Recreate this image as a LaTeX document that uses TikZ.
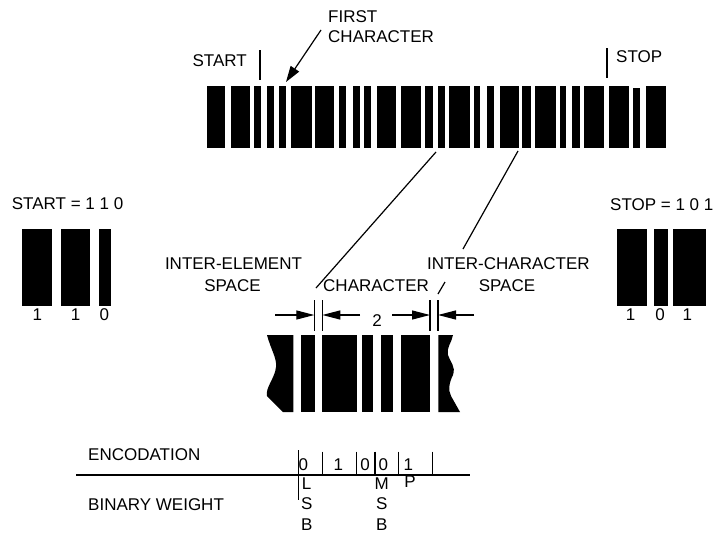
\documentclass[tikz,border=0pt]{standalone}
\usepackage{fontspec}
\setmainfont{Liberation Sans}
\usetikzlibrary{arrows.meta}
\begin{document}
\begin{tikzpicture}[x=1pt,y=-1pt,
  lbl/.style={inner sep=0pt,font=\fontsize{17}{20}\selectfont},
  thinline/.style={line width=1.2pt},
  dimarrow/.style={line width=1.2pt,-{Triangle[length=18pt,width=9pt]}},
  ptr/.style={line width=1.2pt,-{Triangle[length=16pt,width=10pt]}}]
\useasboundingbox (0,0) rectangle (713,533);
% ---------- top barcode ----------
\foreach \a/\b in {207/225,231/250,254/261,267/274,279/286,291/312,315/334,339/346,353/360,364/371,377/396,401/421,425/433,438/445,449/470,474/480,487/494,500/519,522/531,535/556,560/566,572/580,584/604,609/629,646/666}
  \fill (\a,86) rectangle (\b,148);
\fill (633,87.5) rectangle (640,148);
% start / stop markers
\coordinate (startT) at (260,50); \coordinate (startB) at (260,80);
\draw[thinline] (startT) -- (startB);
\node[lbl,anchor=east] (start) at (247,61) {START};
\coordinate (stopT) at (607,48); \coordinate (stopB) at (607,78);
\draw[thinline] (stopT) -- (stopB);
\node[lbl,anchor=west] (stop) at (616,57) {STOP};
% first character
\node[lbl,anchor=west] (first) at (328,17) {FIRST};
\node[lbl,anchor=west] (firstch) at (328,37) {CHARACTER};
\coordinate (fcfrom) at (321,30); \coordinate (fcto) at (286,82);
\draw[ptr] (fcfrom) -- (fcto);
% ---------- start / stop patterns ----------
\node[lbl,anchor=west] (starteq) at (11.7,203.3) {START = 1 1 0};
\fill (21.7,229.3) rectangle (51.7,306);
\fill (61,229.3) rectangle (90,306);
\fill (99,229.3) rectangle (111,306);
\node[lbl] (s1) at (37.3,315) {1};
\node[lbl] (s2) at (75.7,315) {1};
\node[lbl] (s3) at (104.3,315) {0};
\node[lbl,anchor=west] (stopeq) at (610,205) {STOP = 1 0 1};
\fill (616.7,229.3) rectangle (646.7,306);
\fill (654,229.3) rectangle (668.3,306);
\fill (672.7,229.3) rectangle (706,306);
\node[lbl] (t1) at (630.7,315) {1};
\node[lbl] (t2) at (660,315) {0};
\node[lbl] (t3) at (687.3,315) {1};
% ---------- magnifier lines ----------
\coordinate (d1a) at (436,152); \coordinate (d1b) at (316,288);
\draw[thinline] (d1a) -- (d1b);
\coordinate (d2a) at (518,151); \coordinate (d2b) at (463,249);
\draw[thinline] (d2a) -- (d2b);
\coordinate (d3a) at (445,282); \coordinate (d3b) at (438,294);
\draw[thinline] (d3a) -- (d3b);
% labels
\node[lbl] (ie1) at (233.5,264) {INTER-ELEMENT};
\node[lbl] (ie2) at (232.5,285.7) {SPACE};
\node[lbl,anchor=west] (chr) at (323,285.7) {CHARACTER};
\node[lbl,anchor=west] (ic1) at (427,264) {INTER-CHARACTER};
\node[lbl] (ic2) at (507,285.7) {SPACE};
% dimension row
\foreach \x in {314.3,322.3,430,438}
  \draw[thinline] (\x,300) -- (\x,331);
\coordinate (a1s) at (275,315); \coordinate (a1e) at (314.3,315);
\coordinate (a2s) at (360,315); \coordinate (a2e) at (322.3,315);
\coordinate (a3s) at (392,315); \coordinate (a3e) at (430,315);
\coordinate (a4s) at (474,315); \coordinate (a4e) at (438,315);
\draw[dimarrow] (a1s) -- (a1e);
\draw[dimarrow] (a2s) -- (a2e);
\draw[dimarrow] (a3s) -- (a3e);
\draw[dimarrow] (a4s) -- (a4e);
\node[lbl] (two) at (377,321) {2};
% magnified bars
\fill (267,335) .. controls (271,350) and (277,358) .. (276,367)
  .. controls (275,378) and (265,388) .. (267,396) -- (283,412)
  -- (293.3,412) -- (293.3,335) -- cycle;
\fill (300.7,335) rectangle (315,412);
\fill (321.7,335) rectangle (356.7,412);
\fill (361.7,335) rectangle (373.3,412);
\fill (380.7,335) rectangle (393.3,412);
\fill (400.7,335) rectangle (430,412);
\fill (438.3,335) -- (453,335) .. controls (452,342) and (446,348) .. (448,355)
  .. controls (450,362) and (456,366) .. (453,375)
  .. controls (449,383) and (448,390) .. (451,396) -- (460,412)
  -- (438.3,412) -- cycle;
% ---------- encodation ----------
\node[lbl,anchor=west] (enc) at (88,455) {ENCODATION};
\node[lbl,anchor=west] (bw) at (88,505) {BINARY WEIGHT};
\coordinate (hl) at (76,475); \coordinate (hr) at (470,475);
\draw[thinline] (hl) -- (hr);
\draw[thinline] (298.3,450) -- (298.3,500);
\foreach \x in {322.7,356.7,375,398.3,432.3}
  \draw[thinline] (\x,451.7) -- (\x,475);
\node[lbl] (e1) at (303.3,465) {0};
\node[lbl] (e2) at (338.3,465) {1};
\node[lbl] (e3) at (365,465) {0};
\node[lbl] (e4) at (383.3,465) {0};
\node[lbl] (e5) at (408.3,465) {1};
\node[lbl] (lsbL) at (306.7,484) {L};
\node[lbl] (lsbS) at (306.7,504) {S};
\node[lbl] (lsbB) at (306.7,525) {B};
\node[lbl] (msbM) at (381.7,484) {M};
\node[lbl] (msbS) at (381.7,504) {S};
\node[lbl] (msbB) at (381.7,525) {B};
\node[lbl] (par) at (410,482) {P};
\end{tikzpicture}
\end{document}
